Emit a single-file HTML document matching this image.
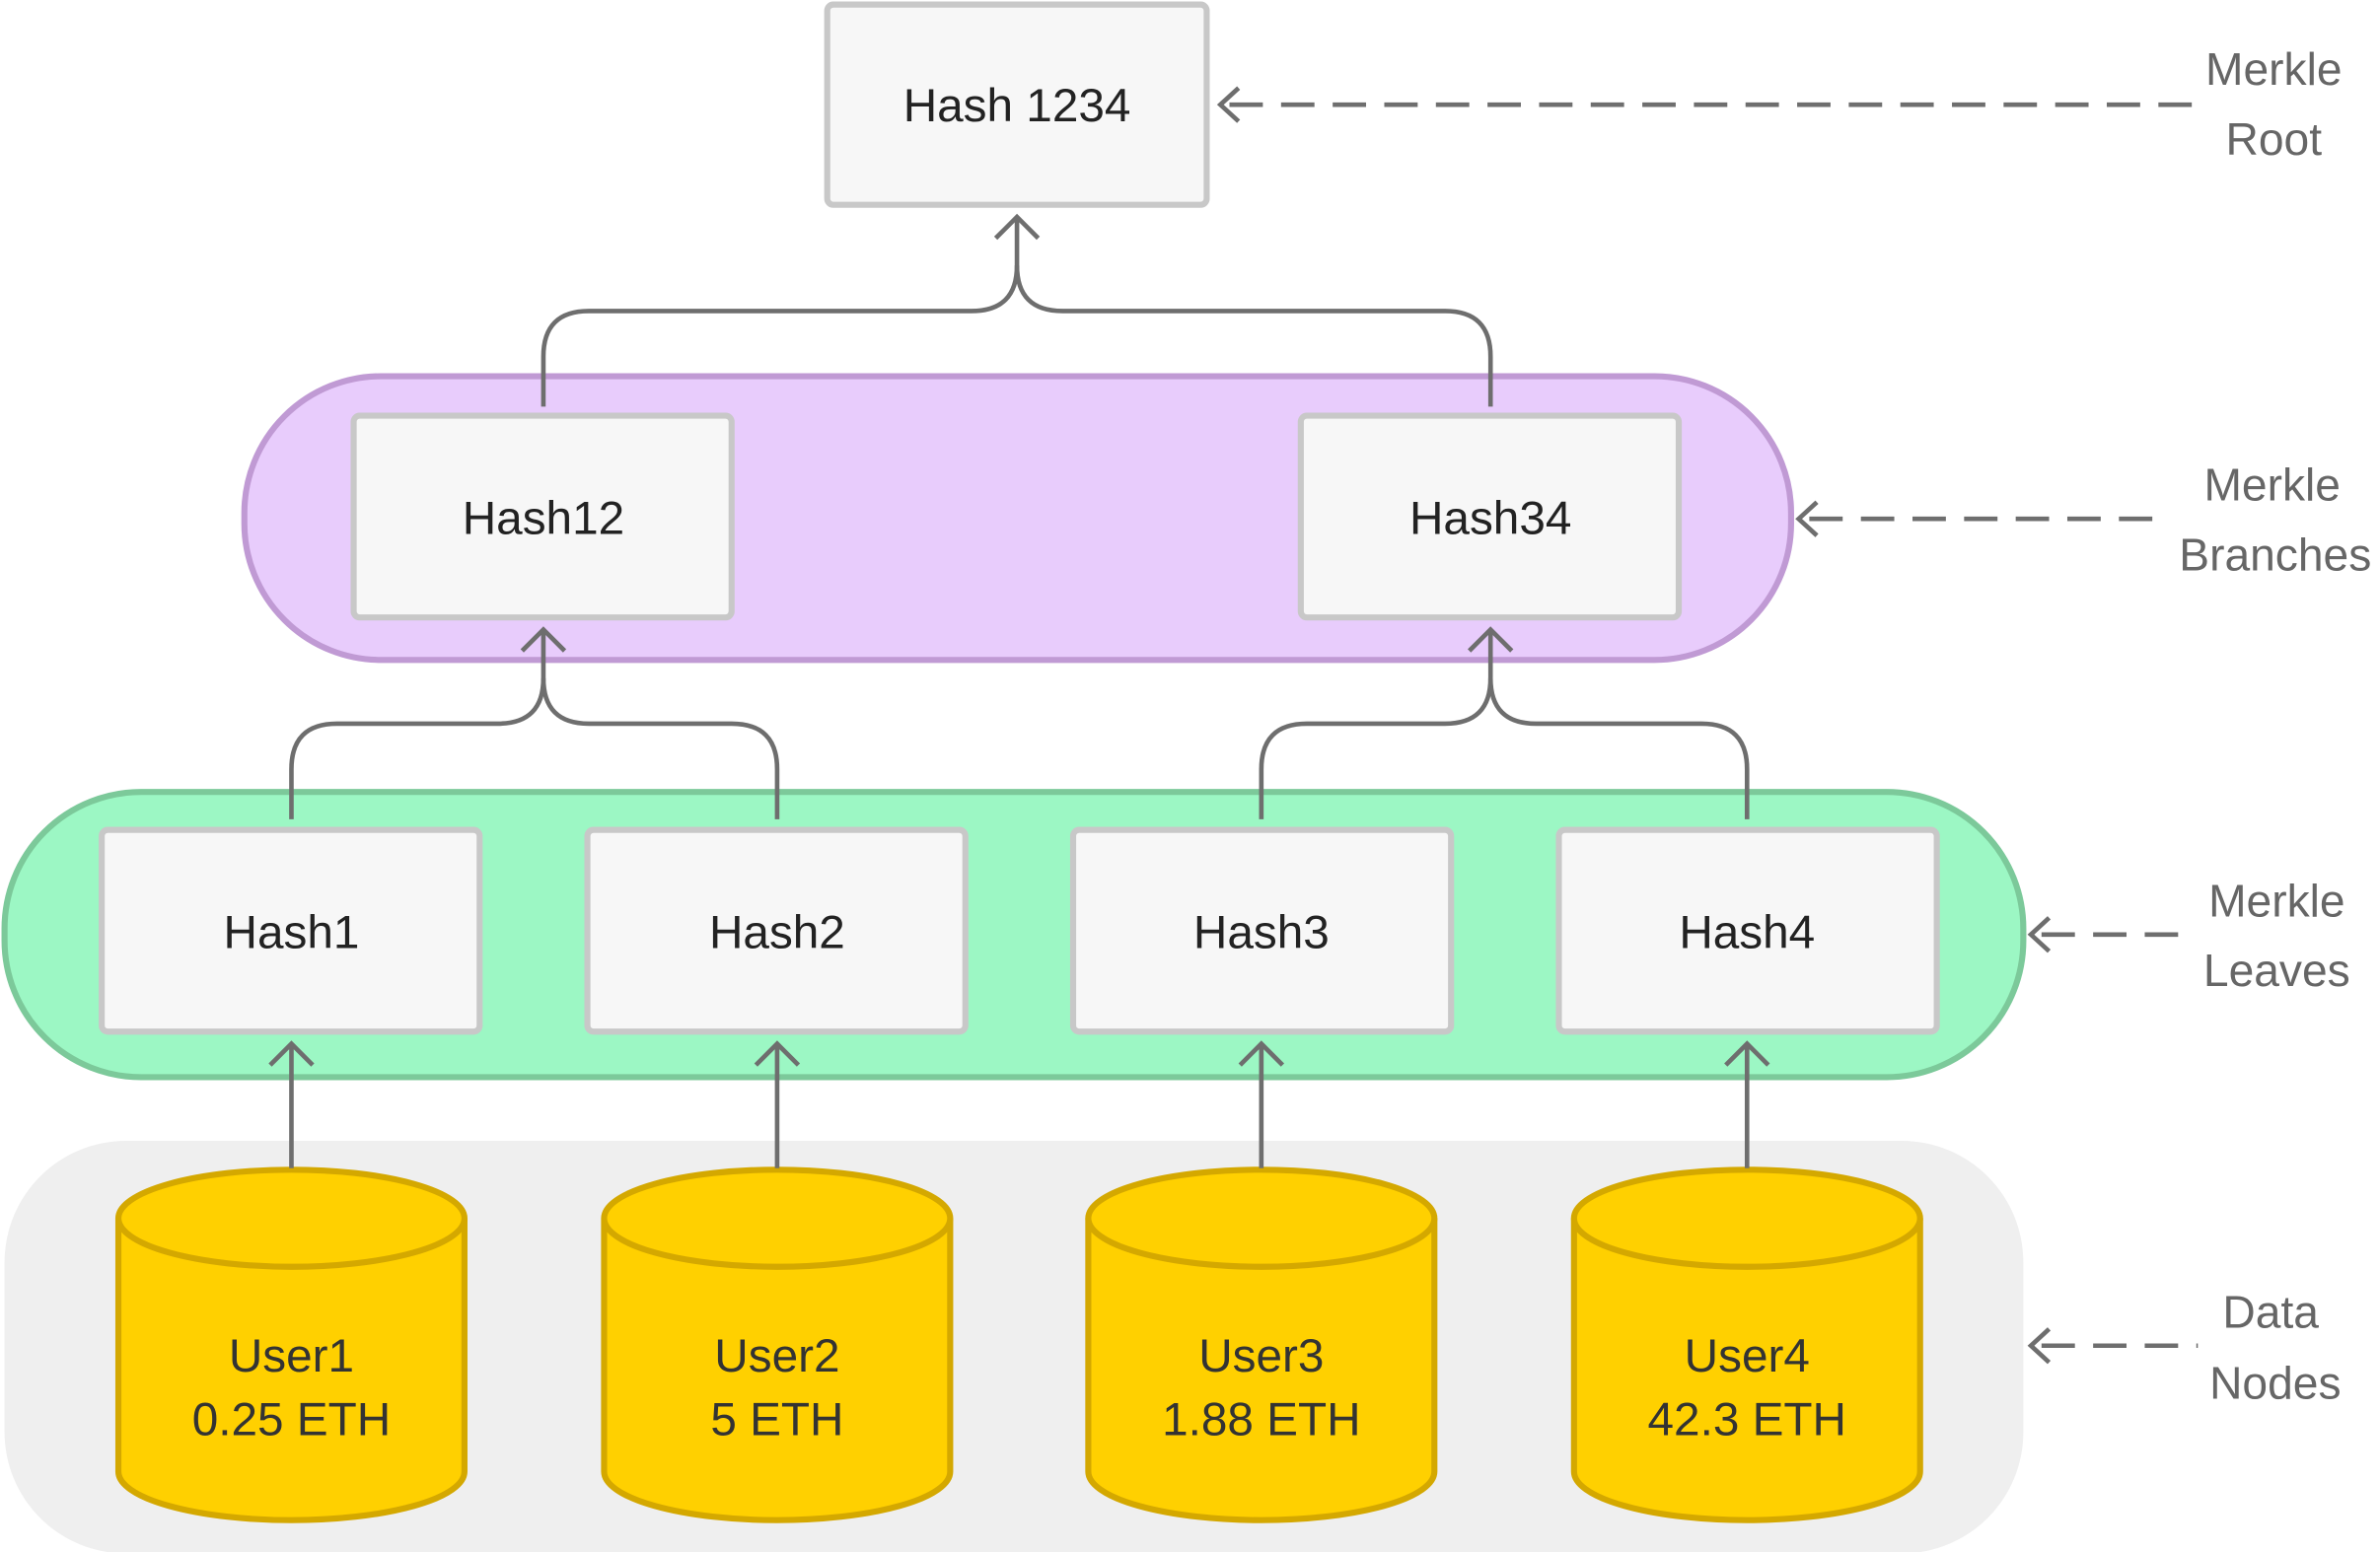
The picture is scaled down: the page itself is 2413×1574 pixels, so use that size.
<!DOCTYPE html>
<html><head><meta charset="utf-8"><style>
html,body{margin:0;padding:0;background:#fff;}
svg{display:block;}
text{font-family:"Liberation Sans",sans-serif;}
</style></head><body>
<svg width="2413" height="1574" viewBox="0 0 1568 1023" preserveAspectRatio="none" xmlns="http://www.w3.org/2000/svg">
<rect x="3" y="752" width="1330" height="272" rx="80" fill="#efefef"/>
<rect x="161" y="248" width="1019" height="187" rx="90" fill="#e8ccfc" stroke="#c09ad4" stroke-width="4"/>
<rect x="3" y="522" width="1330" height="188" rx="90" fill="#9cf7c4" stroke="#7cc99a" stroke-width="4"/>
<g fill="#f7f7f7" stroke="#c8c8c8" stroke-width="4">
<rect x="545" y="3" width="250" height="132" rx="4"/>
<rect x="233" y="274" width="249" height="133" rx="4"/>
<rect x="857" y="274" width="249" height="133" rx="4"/>
<rect x="67" y="547" width="249" height="133" rx="4"/>
<rect x="387" y="547" width="249" height="133" rx="4"/>
<rect x="707" y="547" width="249" height="133" rx="4"/>
<rect x="1027" y="547" width="249" height="133" rx="4"/>
</g>
<g font-size="31" fill="#222" text-anchor="middle">
<text x="670" y="80">Hash 1234</text>
<text x="358" y="352">Hash12</text>
<text x="982" y="352">Hash34</text>
<text x="192" y="625">Hash1</text>
<text x="512" y="625">Hash2</text>
<text x="831" y="625">Hash3</text>
<text x="1151" y="625">Hash4</text>
</g>
<g fill="#ffd000" stroke="#d4a800" stroke-width="4">
<g id="c"><path d="M78,803 L78,970 A114,32 0 0 0 306,970 L306,803"/><ellipse cx="192" cy="803" rx="114" ry="32"/></g>
<use href="#c" x="320"/><use href="#c" x="639"/><use href="#c" x="959"/>
</g>
<g font-size="31" fill="#333" text-anchor="middle">
<text x="192" y="904">User1</text><text x="192" y="946">0.25 ETH</text>
<text x="512" y="904">User2</text><text x="512" y="946">5 ETH</text>
<text x="831" y="904">User3</text><text x="831" y="946">1.88 ETH</text>
<text x="1151" y="904">User4</text><text x="1151" y="946">42.3 ETH</text>
</g>
<g fill="none" stroke="#6e6e6e" stroke-width="3">
<path d="M358,268 L358,235 Q358,205 388,205 L640,205 Q670,205 670,175 L670,143"/>
<path d="M982,268 L982,235 Q982,205 952,205 L700,205 Q670,205 670,175"/>
<path d="M656,157 L670,143 L684,157"/>
<path d="M192,540 L192,507 Q192,477 222,477 L328,477 Q358,477 358,447 L358,415"/>
<path d="M512,540 L512,507 Q512,477 482,477 L388,477 Q358,477 358,447"/>
<path d="M344,429 L358,415 L372,429"/>
<path d="M831,540 L831,507 Q831,477 861,477 L952,477 Q982,477 982,447 L982,415"/>
<path d="M1151,540 L1151,507 Q1151,477 1121,477 L1012,477 Q982,477 982,447"/>
<path d="M968,429 L982,415 L996,429"/>
<path d="M192,770 L192,688 M178,702 L192,688 L206,702"/>
<path d="M512,770 L512,688 M498,702 L512,688 L526,702"/>
<path d="M831,770 L831,688 M817,702 L831,688 L845,702"/>
<path d="M1151,770 L1151,688 M1137,702 L1151,688 L1165,702"/>
</g>
<g fill="none" stroke="#6e6e6e" stroke-width="3">
<path d="M810,69 L1445,69" stroke-dasharray="22 12"/><path d="M816,58 L804,69 L816,80"/>
<path d="M1192,342 L1430,342" stroke-dasharray="22 12"/><path d="M1197,331 L1185,342 L1197,353"/>
<path d="M1345,616 L1445,616" stroke-dasharray="22 12"/><path d="M1350,605 L1338,616 L1350,627"/>
<path d="M1345,887 L1448,887" stroke-dasharray="22 12"/><path d="M1350,876 L1338,887 L1350,898"/>
</g>
<g font-size="30" fill="#666" text-anchor="middle">
<text x="1498" y="56">Merkle</text><text x="1498" y="102">Root</text>
<text x="1497" y="330">Merkle</text><text x="1499" y="376">Branches</text>
<text x="1500" y="604">Merkle</text><text x="1500" y="650">Leaves</text>
<text x="1496" y="875">Data</text><text x="1499" y="922">Nodes</text>
</g>
</svg>
</body></html>
